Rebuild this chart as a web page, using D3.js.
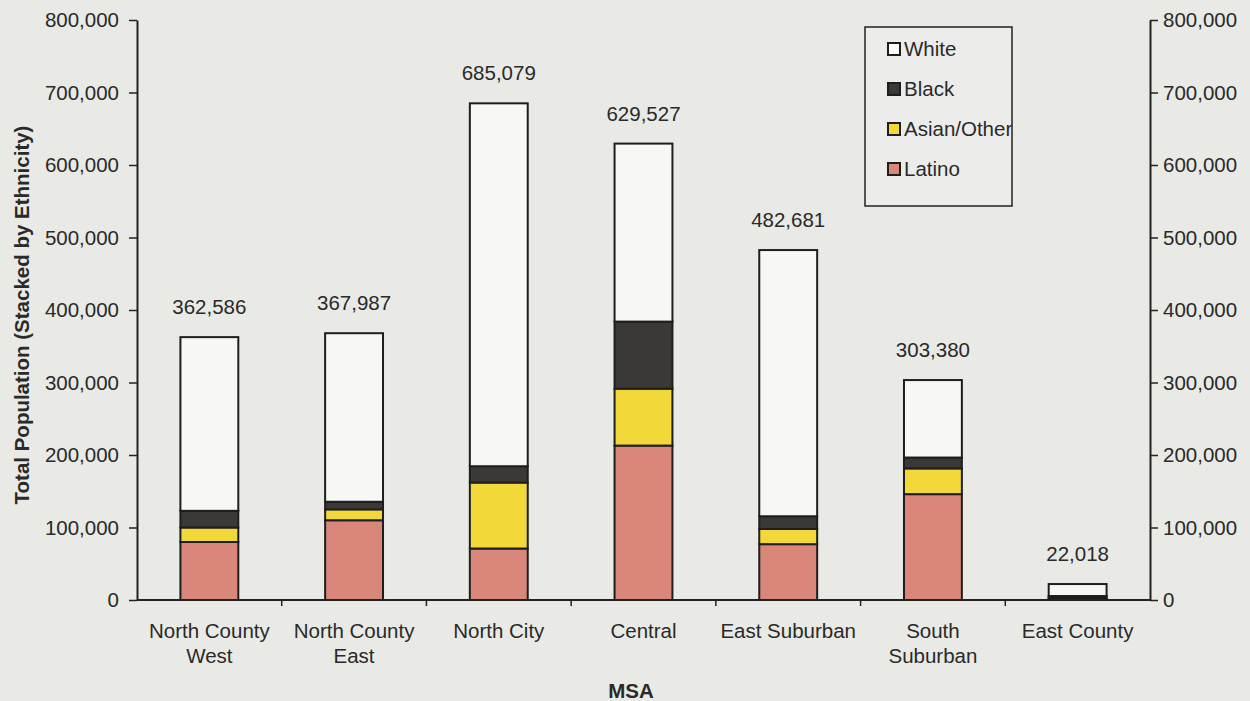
<!DOCTYPE html>
<html>
<head>
<meta charset="utf-8">
<script src="https://cdn.jsdelivr.net/npm/d3@7/dist/d3.min.js"></script>
<style>
  html, body { margin: 0; padding: 0; background: #e9e9e5; }
  svg { display: block; }
  text { font-family: "Liberation Sans", Arial, sans-serif; fill: #2a2a2a; }
</style>
</head>
<body>
<svg id="chart" width="1250" height="701"></svg>
<script>
// Population by MSA, stacked by ethnicity
const categories = ["North County West", "North County East", "North City", "Central", "East Suburban", "South Suburban", "East County"];
const categoryLines = [["North County", "West"], ["North County", "East"], ["North City"], ["Central"], ["East Suburban"], ["South", "Suburban"], ["East County"]];
const totals = [362586, 367987, 685079, 629527, 482681, 303380, 22018];
const latino = [80000, 110000, 71000, 213000, 77000, 146000, 1800];
const asianOther = [20000, 15000, 91000, 78500, 21000, 35500, 1200];
const black = [23000, 10500, 22500, 92500, 17500, 15000, 2500];
const white = totals.map((t, i) => t - latino[i] - asianOther[i] - black[i]);
const yTicks = [0, 100000, 200000, 300000, 400000, 500000, 600000, 700000, 800000];
const seriesKeys = ["Latino", "Asian/Other", "Black", "White"];
const seriesColors = { "Latino": "#d9867b", "Asian/Other": "#f3d83a", "Black": "#3a3938", "White": "#f7f7f5" };
const legendOrder = ["White", "Black", "Asian/Other", "Latino"];

const rows = categories.map((c, i) => ({
  name: c, "Latino": latino[i], "Asian/Other": asianOther[i], "Black": black[i], "White": white[i], total: totals[i]
}));

const FS = 20.5;
const svg = d3.select("#chart");
const plotLeft = 137, plotRight = 1150, plotTop = 20, plotBottom = 600;

const x = d3.scaleBand().domain(categories).range([plotLeft, plotRight]).paddingInner(0).paddingOuter(0);
const y = d3.scaleLinear().domain([0, 800000]).range([plotBottom, plotTop]);
const fmt = d3.format(",");

const stacked = d3.stack().keys(seriesKeys)(rows);
const barW = x.bandwidth() * 0.4;

// stacked bars
const g = svg.append("g");
stacked.forEach(layer => {
  g.selectAll(null).data(layer).enter().append("rect")
    .attr("x", d => x(d.data.name) + (x.bandwidth() - barW) / 2)
    .attr("y", d => y(d[1]))
    .attr("width", barW)
    .attr("height", d => y(d[0]) - y(d[1]))
    .attr("fill", seriesColors[layer.key])
    .attr("stroke", "#1e1e1e")
    .attr("stroke-width", 2);
});

// total labels
svg.append("g").selectAll("text").data(rows).enter().append("text")
  .attr("x", d => x(d.name) + x.bandwidth() / 2)
  .attr("y", d => y(d.total) - 23)
  .attr("text-anchor", "middle")
  .attr("font-size", FS)
  .text(d => fmt(d.total));

// y axes
const yAxisL = d3.axisLeft(y).tickValues(yTicks).tickFormat(fmt).tickSize(8).tickPadding(10);
const yAxisR = d3.axisRight(y).tickValues(yTicks).tickFormat(fmt).tickSize(8).tickPadding(5);
function styleAxis(sel) {
  sel.select(".domain").attr("stroke", "#222").attr("stroke-width", 2);
  sel.selectAll(".tick line").attr("stroke", "#222").attr("stroke-width", 1.5);
  sel.selectAll(".tick text").attr("font-size", FS).attr("fill", "#2a2a2a")
     .attr("font-family", "Liberation Sans, Arial, sans-serif");
}
svg.append("g").attr("transform", `translate(${plotLeft},0)`).call(yAxisL.tickSizeOuter(0)).call(styleAxis);
svg.append("g").attr("transform", `translate(${plotRight},0)`).call(yAxisR.tickSizeOuter(0)).call(styleAxis);

// x axis with ticks at band boundaries
svg.append("line").attr("x1", plotLeft).attr("x2", plotRight).attr("y1", plotBottom).attr("y2", plotBottom)
  .attr("stroke", "#222").attr("stroke-width", 2);
svg.append("g").selectAll("line").data(categories.slice(1)).enter().append("line")
  .attr("x1", d => x(d)).attr("x2", d => x(d))
  .attr("y1", plotBottom).attr("y2", plotBottom + 6)
  .attr("stroke", "#222").attr("stroke-width", 1.5);

// category labels
const xl = svg.append("g").selectAll("text").data(categories).enter().append("text")
  .attr("x", d => x(d) + x.bandwidth() / 2)
  .attr("y", 638)
  .attr("text-anchor", "middle")
  .attr("font-size", FS);
xl.each(function(d, i) {
  const t = d3.select(this);
  categoryLines[i].forEach((line, j) => {
    t.append("tspan").attr("x", x(d) + x.bandwidth() / 2).attr("dy", j === 0 ? 0 : 25).text(line);
  });
});

// axis titles
svg.append("text").attr("x", 631).attr("y", 698).attr("text-anchor", "middle")
  .attr("font-size", FS).attr("font-weight", "bold").attr("fill", "#4a4a4a").text("MSA");
svg.append("text").attr("transform", "translate(29,315) rotate(-90)").attr("text-anchor", "middle")
  .attr("font-size", FS).attr("font-weight", "bold").attr("fill", "#4a4a4a")
  .text("Total Population (Stacked by Ethnicity)");

// legend
const lg = svg.append("g").attr("transform", "translate(865,27)");
lg.append("rect").attr("width", 147).attr("height", 179).attr("fill", "#ececea")
  .attr("stroke", "#222").attr("stroke-width", 1.5);
legendOrder.forEach((k, i) => {
  const yy = 22 + i * 40;
  lg.append("rect").attr("x", 23).attr("y", yy - 6).attr("width", 12).attr("height", 12)
    .attr("fill", k === "White" ? "#ffffff" : seriesColors[k])
    .attr("stroke", "#1e1e1e").attr("stroke-width", 2);
  lg.append("text").attr("x", 39).attr("y", yy + 7).attr("font-size", FS).text(k);
});
</script>
</body>
</html>
